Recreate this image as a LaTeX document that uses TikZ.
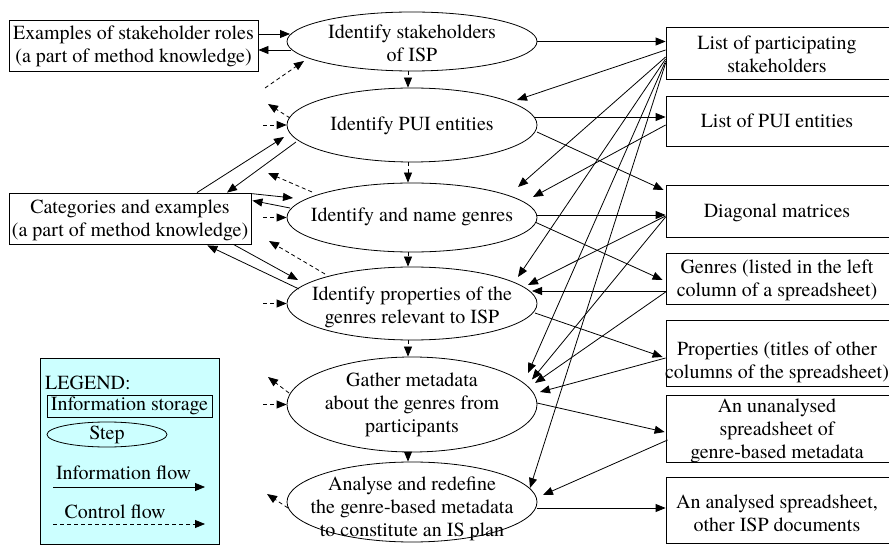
\documentclass[tikz,border=0pt]{standalone}
\usepackage{fontspec}
\setmainfont{TeX Gyre Termes}
\usetikzlibrary{shapes.geometric,arrows.meta,calc}
\definecolor{lgcyan}{RGB}{204,255,255}
\begin{document}
\begin{tikzpicture}[x=1pt,y=-1pt,
  every node/.style={font=\fontsize{20}{23}\selectfont},
  stepshape/.style={draw, ellipse, minimum width=250pt, inner sep=0pt, line width=0.8pt},
  store/.style={draw, rectangle, inner sep=0pt, line width=0.8pt},
  lbl/.style={align=center, inner sep=0pt},
  info/.style={line width=0.8pt, -{Triangle[length=10pt,width=8pt]}},
  ctrl/.style={info, dash pattern=on 4pt off 3pt},
]
\useasboundingbox (0,0) rectangle (889,545);

% legend
\node[draw, fill=lgcyan, minimum width=179pt, minimum height=186pt, inner sep=0pt, line width=0.8pt] (LG) at (129.5,451) {};
\node[anchor=west, inner sep=0pt] (LGt) at (45,383) {LEGEND:};
\node[store, minimum width=165pt, minimum height=22pt] (LS) at (129.5,406) {Information storage};
\node[draw, ellipse, minimum width=120pt, minimum height=25pt, inner sep=0pt, line width=0.8pt] (LE) at (107,434.5) {};
\node[lbl] (LEt) at (107,435) {Step};
\node[lbl] (LIt) at (123.5,473) {Information flow};
\coordinate (LIa) at (53,487); \coordinate (LIb) at (205,487);
\draw[info] (LIa) -- (LIb);
\node[lbl] (LCt) at (115,512) {Control flow};
\coordinate (LCa) at (53,524); \coordinate (LCb) at (205,524);
\draw[ctrl] (LCa) -- (LCb);

% steps
\node[stepshape, minimum height=59pt] (E1) at (412,41.5) {};
\node[stepshape, minimum height=74pt] (E2) at (412,125) {};
\node[stepshape, minimum height=69pt] (E3) at (412,217.5) {};
\node[stepshape, minimum height=73pt] (E4) at (412,303.5) {};
\node[stepshape, minimum height=95pt] (E5) at (412,404.5) {};
\node[stepshape, minimum height=80pt] (E6) at (412,502) {};
\node[lbl] (E1t) at (412,43.5) {Identify stakeholders\\of ISP};
\node[lbl] (E2t) at (412,126) {Identify PUI entities};
\node[lbl] (E3t) at (412,217) {Identify and name genres};
\node[lbl] (E4t) at (412,307.5) {Identify properties of the\\genres relevant to ISP};
\node[lbl] (E5t) at (412,405) {Gather metadata\\about the genres from\\participants};
\node[lbl] (E6t) at (412,508.5) {Analyse and redefine\\the genre-based metadata\\to constitute an IS plan};

% left storages
\node[store, minimum width=249pt, minimum height=51pt] (B1) at (133.5,45.5) {};
\node[lbl] (B1t) at (133.5,46.5) {Examples of stakeholder roles\\(a part of method knowledge)};
\node[store, minimum width=242pt, minimum height=51pt] (B2) at (130,218.5) {};
\node[lbl] (B2t) at (130,220) {Categories and examples\\(a part of method knowledge)};

% right storages
\node[store, minimum width=225pt, minimum height=52pt] (R1) at (778.5,53) {};
\node[lbl] (R1t) at (777,54.5) {List of participating\\stakeholders};
\node[store, minimum width=225pt, minimum height=50pt] (R2) at (778.5,121) {};
\node[lbl] (R2t) at (777,121) {List of PUI entities};
\node[store, minimum width=225pt, minimum height=52pt] (R3) at (778.5,211) {};
\node[lbl] (R3t) at (777,213) {Diagonal matrices};
\node[store, minimum width=225pt, minimum height=51pt] (R4) at (778.5,278.5) {};
\node[lbl] (R4t) at (777,280) {Genres (listed in the left\\column of a spreadsheet)};
\node[store, minimum width=225pt, minimum height=66pt] (R5) at (778.5,353) {};
\node[lbl] (R5t) at (777,362) {Properties (titles of other\\columns of the spreadsheet)};
\node[store, minimum width=225pt, minimum height=67pt] (R6) at (778.5,428.5) {};
\node[lbl] (R6t) at (777,431) {An unanalysed\\spreadsheet of\\genre-based metadata};
\node[store, minimum width=225pt, minimum height=66pt] (R7) at (778.5,510) {};
\node[lbl] (R7t) at (777,513.5) {An analysed spreadsheet,\\other ISP documents};

% free ends of control flows
\coordinate (c1) at (265,88);
\coordinate (c2) at (268,104);
\coordinate (c3) at (263,125);
\coordinate (c4) at (263,217.5);
\coordinate (c5) at (268,173);
\coordinate (c6) at (269,241);
\coordinate (c7) at (263,303.5);
\coordinate (c8) at (268,377);
\coordinate (c9) at (263,404.5);
\coordinate (c10) at (267,494);

% left connectors
\draw[info] ($(B1.east)+(0,-11.5)$) -- ($(E1)+(-122,-7.5)$);
\draw[info] ($(E1)+(-121,8.5)$) -- ($(B1.east)+(0,4.5)$);
\draw[ctrl] (c1) -- ($(E1)+(-108,19.5)$);
\draw[ctrl] ($(E2)+(-122,-7)$) -- (c2);
\draw[ctrl] (c3) -- (E2.west);
\draw[info] ($(B2.north)+(67,0)$) -- ($(E2)+(-128,12)$);
\draw[info] ($(E2)+(-116,17)$) -- ($(B2.north)+(97,0)$);
\draw[info] ($(B2.north east)+(0,1)$) -- ($(E3)+(-119,-19.5)$);
\draw[info] ($(E3)+(-122,-9.5)$) -- ($(B2.north east)+(1,8)$);
\draw[ctrl] (c4) -- (E3.west);
\draw[ctrl] ($(E3)+(-100,-25.5)$) -- (c5);
\draw[ctrl] ($(E4)+(-87,-29.5)$) -- (c6);
\draw[info] ($(B2.south east)+(-18,0)$) -- ($(E4)+(-114,-23.5)$);
\draw[info] ($(E4)+(-113,-14.5)$) -- ($(B2.south east)+(-44,1)$);
\draw[ctrl] (c7) -- (E4.west);
\draw[ctrl] ($(E5)+(-123,-11.5)$) -- (c8);
\draw[ctrl] (c9) -- (E5.west);
\draw[ctrl] ($(E6)+(-124,6)$) -- (c10);

% control flow between steps
\foreach \a/\b in {E1/E2,E2/E3,E3/E4,E4/E5,E5/E6}
  \draw[ctrl] ($(\a.south)+(-4,0)$) -- ($(\b.north)+(-4,0)$);

% right connectors
\draw[info] (E1.east) -- (E1.east -| R1.west);
\draw[info] ($(R1.west)+(0,-3)$) -- ($(E2)+(105,-25)$);
\draw[info] ($(E2)+(122,-8)$) -- ($(R2.west)+(0,-4)$);
\draw[info] ($(E2)+(125,7)$) -- ($(R3.west)+(-2,-21)$);
\draw[info] ($(R1.west)+(0,4)$) -- ($(E3)+(106,-30.5)$);
\draw[info] ($(R2.west)+(0,4)$) -- ($(E3)+(121,-20.5)$);
\draw[info] ($(E3)+(125,-2.5)$) -- ($(R3.west)+(0,4)$);
\draw[info] ($(E3)+(124,5)$) -- ($(R4.west)+(-3,1.5)$);
\draw[info] ($(R1.west)+(0,6)$) -- ($(E4)+(106,-26.5)$);
\draw[info] ($(R3.west)+(0,5)$) -- ($(E4)+(116,-18.5)$);
\draw[info] ($(R4.west)+(0,12.5)$) -- ($(E4)+(120,-12.5)$);
\draw[info] ($(E4)+(123,9.5)$) -- ($(R5.west)+(-3,4)$);
\draw[info] ($(R1.west)+(0,8)$) -- ($(E5)+(116,-31.5)$);
\draw[info] ($(R3.west)+(0,6)$) -- ($(E5)+(120,-25)$);
\draw[info] ($(R4.west)+(0,13.5)$) -- ($(E5)+(123,-21.5)$);
\draw[info] ($(R5.west)+(0,5)$) -- ($(E5)+(128,-12.5)$);
\draw[info] ($(E5)+(125,-1.5)$) -- ($(R6.west)+(-1,3.5)$);
\draw[info] ($(R1.west)+(0,10)$) -- ($(E6)+(118,-14)$);
\draw[info] ($(R6.west)+(2,11.5)$) -- ($(E6)+(131,-7)$);
\draw[info] ($(E6)+(125,6)$) -- ($(R7.west)+(0,-2)$);
\end{tikzpicture}
\end{document}
